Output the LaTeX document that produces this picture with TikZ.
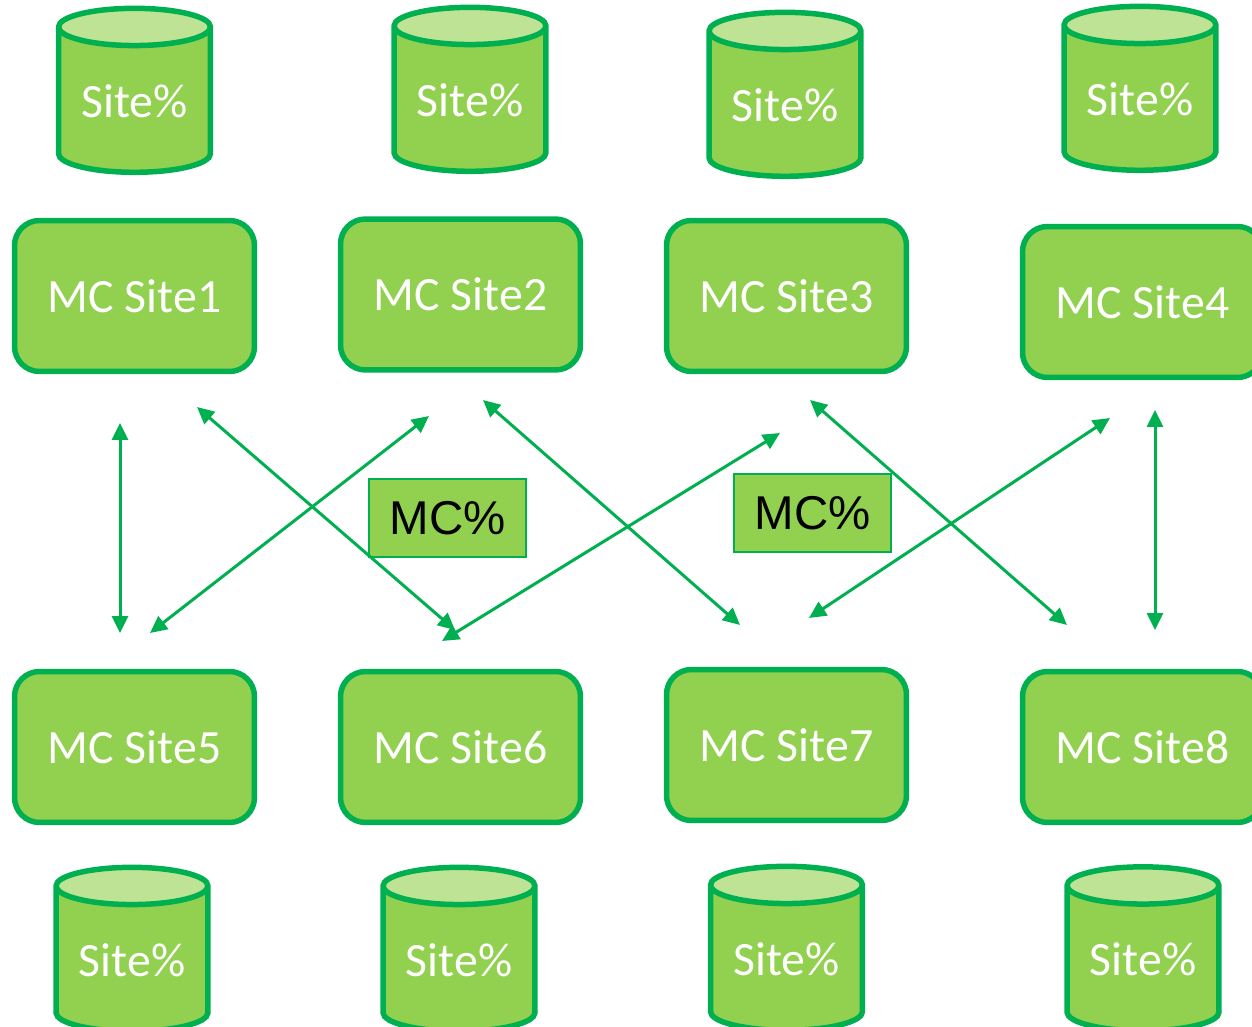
\documentclass[tikz,border=0pt]{standalone}
\usepackage{fontspec}
\setmainfont{Carlito}
\newfontfamily\arialfont{Liberation Sans}
\usetikzlibrary{shapes.geometric,arrows.meta}
\definecolor{mcfill}{HTML}{92D050}
\definecolor{mcline}{HTML}{00B050}
\definecolor{mccap}{HTML}{BEE395}
\tikzstyle{mcsite}=[rectangle, rounded corners=0.5cm, draw=mcline, fill=mcfill, line width=0.11cm, minimum width=4.8cm, minimum height=3.02cm, text=white, font=\fontsize{27.2}{32}\selectfont]
\tikzstyle{sitedb}=[cylinder, shape border rotate=90, aspect=0.35, draw=mcline, line width=0.11cm, cylinder uses custom fill, cylinder body fill=mcfill, cylinder end fill=mccap, minimum width=3.04cm, minimum height=3.28cm, inner sep=0pt, text=white, font=\fontsize{27.2}{32}\selectfont]
\tikzstyle{mcbox}=[rectangle, draw=mcline, fill=mcfill, line width=0.04cm, minimum width=3.14cm, minimum height=1.56cm, font=\arialfont\fontsize{27}{32}\selectfont]
\tikzstyle{link}=[<->, color=mcline, line width=0.06cm]
\newcommand{\mcsite}[3]{
	\node[mcsite] (#1) at (#2) {#3};}
\newcommand{\sitedb}[2]{
	\node[sitedb] (#1) at (#2) {Site\%};}
\newcommand{\mcbox}[2]{
	\node[mcbox] (#1) at (#2) {MC\%};}
\begin{document}
\begin{tikzpicture}[x=0.02cm, y=-0.02cm, >={Triangle[length=0.34cm,width=0.32cm]}]
\clip (0,0) rectangle (1252,1027);
\sitedb{dbA}{134.5,101}
\sitedb{dbB}{470,100}
\sitedb{dbC}{785,105}
\sitedb{dbD}{1140,99}
\mcsite{siteA}{134.5,296}{MC Site1}
\mcsite{siteB}{460.5,294.5}{MC Site2}
\mcsite{siteC}{786.5,296}{MC Site3}
\mcsite{siteD}{1142.5,302}{MC Site4}
\mcsite{siteE}{134.5,747}{MC Site5}
\mcsite{siteF}{460.5,747}{MC Site6}
\mcsite{siteG}{786.5,745}{MC Site7}
\mcsite{siteH}{1142.5,747}{MC Site8}
\sitedb{dbE}{132,960}
\sitedb{dbF}{459,960}
\sitedb{dbG}{786.5,959}
\sitedb{dbH}{1143,959.5}
\mcbox{boxA}{447.5,518}
\mcbox{boxB}{812.5,513}
\coordinate (a1) at (120,423);
\coordinate (a2) at (120,633);
\coordinate (b1) at (429,416);
\coordinate (b2) at (150,633);
\coordinate (c1) at (197,407);
\coordinate (c2) at (455,630);
\coordinate (d1) at (780,433);
\coordinate (d2) at (442,641);
\coordinate (e1) at (483,400);
\coordinate (e2) at (740,625);
\coordinate (f1) at (1110,418);
\coordinate (f2) at (809,618);
\coordinate (g1) at (810,400);
\coordinate (g2) at (1067,625);
\coordinate (h1) at (1155,410);
\coordinate (h2) at (1155,630);
\path [link] (a1) edge (a2);
\path [link] (b1) edge (b2);
\path [link] (c1) edge (c2);
\path [link] (d1) edge (d2);
\path [link] (e1) edge (e2);
\path [link] (f1) edge (f2);
\path [link] (g1) edge (g2);
\path [link] (h1) edge (h2);
\end{tikzpicture}
\end{document}
